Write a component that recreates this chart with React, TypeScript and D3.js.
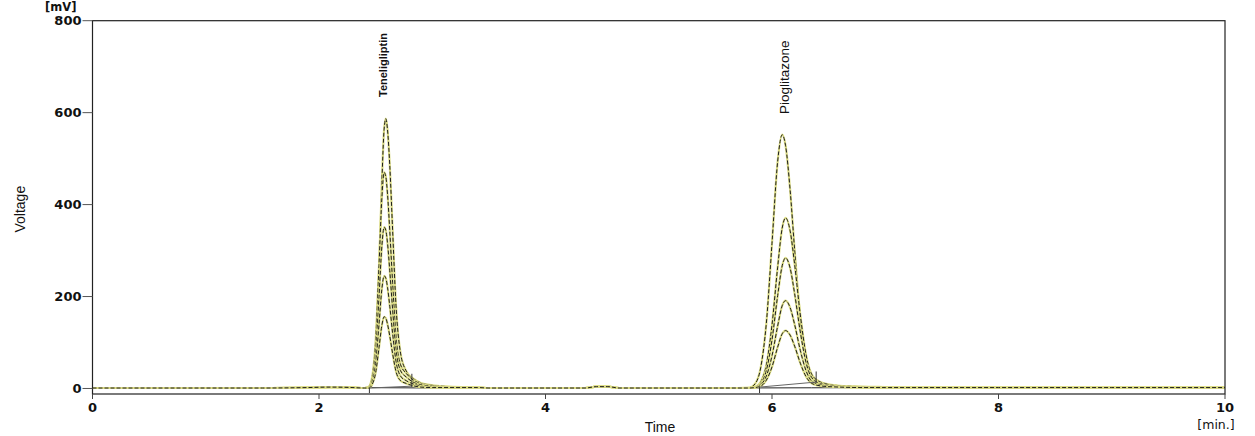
import React from "react";
import * as d3 from "d3";

// baseline samples shared by every trace (outside the two peak windows)
const baseTimes = [0, 0.5, 1, 1.5, 1.9, 2.1, 2.3, 3.5, 4.0, 4.35, 4.45, 4.55, 4.65, 5.0, 5.5, 7.2, 8, 9, 10];
const baseValues = [1, 1, 1, 1, 2, 3, 2, 1, 1, 1, 4, 4, 1, 1, 1, 2, 2, 2, 2];

// Teneligliptin peak window
const teneTimes = [2.4, 2.44, 2.47, 2.5, 2.53, 2.555, 2.575, 2.59, 2.605, 2.625, 2.65, 2.68, 2.72, 2.77, 2.83, 2.9, 3.0, 3.15, 3.4];
const tene1 = [1, 3, 19, 87, 256, 448, 564, 587, 563, 485, 345, 180, 77, 38, 22, 12, 7, 4, 2];
const tene2 = [1, 4, 26, 103, 268, 414, 470, 461, 423, 343, 230, 113, 52, 33, 19, 10, 6, 3, 2];
const tene3 = [1, 3, 20, 77, 200, 309, 351, 344, 316, 256, 172, 84, 39, 25, 14, 8, 5, 2, 2];
const tene4 = [1, 2, 14, 54, 140, 216, 245, 240, 220, 179, 120, 59, 27, 17, 10, 5, 3, 2, 2];
const tene5 = [1, 1, 9, 34, 89, 137, 156, 153, 140, 114, 76, 37, 17, 11, 6, 3, 2, 2, 2];

// Pioglitazone peak window
const pioTimes = [5.7, 5.8, 5.85, 5.9, 5.95, 6.0, 6.05, 6.09, 6.12, 6.16, 6.2, 6.25, 6.3, 6.36, 6.45, 6.6, 6.8, 7.0];
const pio1 = [1, 2, 10, 45, 142, 316, 494, 552, 528, 432, 301, 153, 61, 20, 9, 5, 3, 2];
const pio2 = [1, 1, 3, 14, 51, 138, 264, 349, 371, 343, 270, 160, 74, 27, 12, 6, 4, 3];
const pio3 = [1, 1, 3, 11, 39, 106, 202, 267, 284, 262, 206, 123, 57, 21, 9, 5, 3, 2];
const pio4 = [1, 1, 2, 8, 27, 71, 136, 180, 191, 176, 139, 83, 39, 14, 7, 4, 2, 2];
const pio5 = [1, 1, 2, 5, 18, 47, 90, 119, 126, 116, 92, 55, 26, 10, 5, 3, 2, 2];

const teneSeries = [tene1, tene2, tene3, tene4, tene5];
const pioSeries = [pio1, pio2, pio3, pio4, pio5];

// integration baselines and marker ticks
const integrations = [
  { t0: 2.445, v0: 1, t1: 2.82, v1: 5, endTop: 32 },
  { t0: 5.89, v0: 3, t1: 6.39, v1: 14, endTop: 37 },
];

const peakLabels = [
  { name: "Teneligliptin", t: 2.565, size: 11, weight: "bold", bottom: 97 },
  { name: "Pioglitazone", t: 6.11, size: 13.5, weight: "normal", bottom: 114 },
];

const xTicks = [0, 2, 4, 6, 8, 10];
const yTicks = [0, 200, 400, 600, 800];

const W = 1255;
const H = 436;
const left = 92.5;
const right = 1225;
const top = 20.7;
const bottom = 394;

type Pt = [number, number];

function buildTrace(peakT: number[], peakV: number[], peak2T: number[], peak2V: number[]): Pt[] {
  const pts: Pt[] = [];
  baseTimes.forEach((t, i) => pts.push([t, baseValues[i]]));
  peakT.forEach((t, i) => pts.push([t, peakV[i]]));
  peak2T.forEach((t, i) => pts.push([t, peak2V[i]]));
  return pts.sort((a, b) => a[0] - b[0]);
}

export default function App() {
  const x = d3.scaleLinear().domain([0, 10]).range([left, right]);
  const y = d3.scaleLinear().domain([-12, 800]).range([bottom, top]);

  const line = d3
    .line<Pt>()
    .x((d) => x(d[0]))
    .y((d) => y(d[1]))
    .curve(d3.curveMonotoneX);

  const traces = teneSeries.map((tv, i) => buildTrace(teneTimes, tv, pioTimes, pioSeries[i]));
  const blank: Pt[] = baseTimes.map((t, i) => [t, baseValues[i]] as Pt);

  const font = "'Liberation Sans', Arial, sans-serif";
  const tickFont = "'DejaVu Sans', Verdana, sans-serif";

  return (
    <svg
      width={W}
      height={H}
      style={{ position: "absolute", left: 0, top: 0, background: "#fff" }}
      fontFamily={font}
    >
      {/* traces */}
      <path d={line(blank) || ""} fill="none" stroke="#222" strokeWidth={1} />
      {traces.map((tr, i) => (
        <g key={i}>
          <path d={line(tr) || ""} fill="none" stroke="#dcdc86" strokeWidth={2.2} />
          <path
            d={line(tr) || ""}
            fill="none"
            stroke="#1e1e1e"
            strokeWidth={1}
            strokeDasharray="4 2"
          />
        </g>
      ))}

      {/* integration baselines */}
      {integrations.map((g, i) => (
        <g key={i} stroke="#333" strokeWidth={1}>
          <line x1={x(g.t0)} y1={y(g.v0)} x2={x(g.t1)} y2={y(g.v1)} stroke="#666" />
          <line x1={x(g.t0)} y1={y(g.v0)} x2={x(g.t0)} y2={y(-10)} />
          <line x1={x(g.t1)} y1={y(g.v1 - 2)} x2={x(g.t1)} y2={y(g.endTop)} />
        </g>
      ))}

      {/* frame */}
      <rect
        x={left}
        y={top}
        width={right - left}
        height={bottom - top}
        fill="none"
        stroke="#222"
        strokeWidth={1.2}
      />

      {/* y axis */}
      {yTicks.map((v) => (
        <g key={v}>
          <line x1={left - 10} x2={left} y1={y(v)} y2={y(v)} stroke="#555" />
          <text
            x={left - 11}
            y={y(v)}
            dy="0.36em"
            textAnchor="end"
            fontSize={13}
            fontWeight="bold"
            fontFamily={tickFont}
            fill="#111"
          >
            {v}
          </text>
        </g>
      ))}
      <text x={45} y={11} fontSize={11.5} fontWeight="bold" fontFamily={tickFont} fill="#111">
        [mV]
      </text>
      <text
        transform={`translate(25, ${y(390)}) rotate(-90)`}
        textAnchor="middle"
        fontSize={14}
        fill="#111"
      >
        Voltage
      </text>

      {/* x axis */}
      {xTicks.map((v) => (
        <g key={v}>
          <line x1={x(v)} x2={x(v)} y1={bottom} y2={bottom + 5} stroke="#444" />
          <text
            x={x(v)}
            y={412}
            textAnchor="middle"
            fontSize={13}
            fontWeight="bold"
            fontFamily={tickFont}
            fill="#111"
          >
            {v}
          </text>
        </g>
      ))}
      <text
        x={1216}
        y={429}
        textAnchor="middle"
        fontSize={12.5}
        fontFamily={tickFont}
        fill="#111"
      >
        [min.]
      </text>
      <text x={660} y={432} textAnchor="middle" fontSize={14} fill="#111">
        Time
      </text>

      {/* peak labels */}
      {peakLabels.map((p) => (
        <text
          key={p.name}
          transform={`translate(${x(p.t)}, ${p.bottom}) rotate(-90)`}
          dy="0.35em"
          textAnchor="start"
          fontSize={p.size}
          fontWeight={p.weight}
          fill="#111"
        >
          {p.name}
        </text>
      ))}
    </svg>
  );
}
